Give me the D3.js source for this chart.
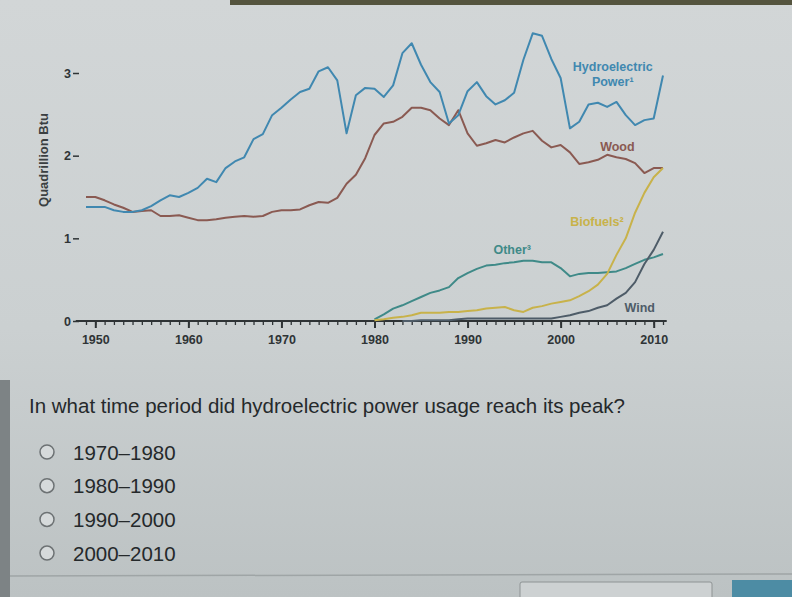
<!DOCTYPE html>
<html>
<head>
<meta charset="utf-8">
<script src="https://cdn.jsdelivr.net/npm/d3@7"></script>
<style>
  html, body { margin: 0; padding: 0; background: #c9cecf; }
  svg { display: block; font-family: "Liberation Sans", Arial, sans-serif; }
</style>
</head>
<body>
<svg id="chart"></svg>
<script>
// ---- data (quadrillion Btu) ----
const years = d3.range(1949, 2012)

const hydro = [1.38, 1.38, 1.38, 1.34, 1.32, 1.32, 1.34, 1.39, 1.46, 1.52,
  1.50, 1.55, 1.61, 1.72, 1.68, 1.85, 1.93, 1.98, 2.20, 2.26,
  2.49, 2.58, 2.68, 2.77, 2.81, 3.02, 3.07, 2.91, 2.27, 2.73,
  2.82, 2.81, 2.71, 2.85, 3.24, 3.36, 3.10, 2.89, 2.77, 2.39,
  2.49, 2.78, 2.89, 2.72, 2.62, 2.67, 2.76, 3.16, 3.48, 3.45,
  3.17, 2.94, 2.33, 2.41, 2.62, 2.64, 2.59, 2.65, 2.49, 2.37,
  2.43, 2.45, 2.97]

const wood = [1.50, 1.50, 1.46, 1.41, 1.37, 1.32, 1.33, 1.34, 1.27, 1.27,
  1.28, 1.25, 1.22, 1.22, 1.23, 1.25, 1.26, 1.27, 1.26, 1.27,
  1.32, 1.34, 1.34, 1.35, 1.40, 1.44, 1.43, 1.49, 1.66, 1.77,
  1.97, 2.25, 2.39, 2.41, 2.47, 2.58, 2.58, 2.55, 2.45, 2.37,
  2.55, 2.27, 2.12, 2.15, 2.19, 2.16, 2.22, 2.27, 2.30, 2.18,
  2.10, 2.13, 2.04, 1.90, 1.92, 1.95, 2.01, 1.98, 1.96, 1.91,
  1.79, 1.85, 1.85]

// these start in 1980
const otherYears = d3.range(1980, 2012)
const other = [0.02, 0.08, 0.15, 0.19, 0.24, 0.29, 0.34, 0.37, 0.41, 0.52,
  0.58, 0.63, 0.67, 0.68, 0.70, 0.71, 0.73, 0.73, 0.71, 0.71,
  0.64, 0.54, 0.57, 0.58, 0.58, 0.59, 0.60, 0.64, 0.69, 0.74,
  0.77, 0.81]

const biofuels = [0.01, 0.02, 0.04, 0.05, 0.07, 0.10, 0.10, 0.10, 0.11, 0.11,
  0.12, 0.13, 0.15, 0.16, 0.17, 0.13, 0.11, 0.16, 0.18, 0.21,
  0.23, 0.25, 0.30, 0.36, 0.44, 0.57, 0.80, 1.00, 1.31, 1.55,
  1.74, 1.85]

// wind starts in 1983
const windYears = d3.range(1983, 2012)
const wind = [0.00, 0.00, 0.01, 0.01, 0.01, 0.01, 0.02, 0.03, 0.03, 0.03,
  0.03, 0.03, 0.03, 0.03, 0.03, 0.03, 0.03, 0.05, 0.07, 0.10,
  0.12, 0.16, 0.19, 0.27, 0.34, 0.47, 0.69, 0.86, 1.08]

const yTicks = [0, 1, 2, 3]
const majorYears = [1950, 1960, 1970, 1980, 1990, 2000, 2010]

const question = 'In what time period did hydroelectric power usage reach its peak?'
const choices = ['1970\u20131980', '1980\u20131990', '1990\u20132000', '2000\u20132010']

const colors = {
  hydro: '#4088b0',
  wood: '#8a5a52',
  biofuels: '#c8b24a',
  other: '#3f8a88',
  wind: '#4e5c68'
}

// ---- set up ----
const width = 792
const height = 597

const svg = d3.select('#chart')
  .attr('width', width)
  .attr('height', height)

// background of the photographed screen
const defs = svg.append('defs')
const bg = defs.append('linearGradient')
  .attr('id', 'bg')
  .attr('x1', 0).attr('y1', 0).attr('x2', 0).attr('y2', 1)
bg.append('stop').attr('offset', '0%').attr('stop-color', '#d2d6d7')
bg.append('stop').attr('offset', '55%').attr('stop-color', '#cbd0d1')
bg.append('stop').attr('offset', '100%').attr('stop-color', '#bcc2c3')

svg.append('rect')
  .attr('width', width)
  .attr('height', height)
  .attr('fill', 'url(#bg)')

svg.append('rect')
  .attr('x', 230).attr('y', 0)
  .attr('width', width - 230).attr('height', 5)
  .attr('fill', '#55553f')

svg.append('rect')
  .attr('x', 0).attr('y', 380)
  .attr('width', 10).attr('height', height - 380)
  .attr('fill', '#7d8385')

// bottom bar and buttons
svg.append('line')
  .attr('x1', 10).attr('x2', width)
  .attr('y1', 576).attr('y2', 574)
  .attr('stroke', '#9fa5a6')
  .attr('stroke-width', 1.5)

svg.append('rect')
  .attr('x', 520).attr('y', 582)
  .attr('width', 192).attr('height', 24)
  .attr('rx', 2)
  .attr('fill', '#cdd1d2')
  .attr('stroke', '#8e9394')

svg.append('rect')
  .attr('x', 732).attr('y', 580)
  .attr('width', 70).attr('height', 24)
  .attr('fill', '#4d8ca4')

// ---- scales ----
const x = d3.scaleLinear()
  .domain([1949, 2011])
  .range([86, 663])

const y = d3.scaleLinear()
  .domain([0, 3])
  .range([321, 73])

const line = d3.line()
  .x(d => x(d[0]))
  .y(d => y(d[1]))

// ---- axes ----
svg.append('line')
  .attr('x1', x(1947.9))
  .attr('x2', x(2011.4))
  .attr('y1', y(0))
  .attr('y2', y(0))
  .attr('stroke', '#2e3335')
  .attr('stroke-width', 2)

const minorAxis = svg.append('g')
  .attr('transform', `translate(0,${y(0)})`)
  .call(d3.axisBottom(x).tickValues(years).tickSize(4).tickFormat(''))

const majorAxis = svg.append('g')
  .attr('transform', `translate(0,${y(0)})`)
  .call(d3.axisBottom(x).tickValues(majorYears).tickSize(7).tickPadding(7).tickFormat(d3.format('d')))

;[minorAxis, majorAxis].forEach(g => {
  g.select('.domain').remove()
  g.selectAll('line').attr('stroke', '#2e3335').attr('stroke-width', 1.3)
})
majorAxis.selectAll('line').attr('stroke-width', 2)
majorAxis.selectAll('text')
  .attr('fill', '#2f3436')
  .attr('font-size', 12.5)
  .attr('font-weight', 'bold')

const yAxis = svg.append('g')
  .attr('transform', 'translate(79,0)')
  .call(d3.axisLeft(y).tickValues(yTicks).tickSize(6).tickPadding(2).tickFormat(d3.format('d')))

yAxis.select('.domain').remove()
yAxis.selectAll('line').attr('stroke', '#2f3436').attr('stroke-width', 1.5)
yAxis.selectAll('text')
  .attr('fill', '#2f3436')
  .attr('font-size', 12.5)
  .attr('font-weight', 'bold')

svg.append('text')
  .attr('transform', 'translate(48,160) rotate(-90)')
  .attr('text-anchor', 'middle')
  .attr('font-size', 13)
  .attr('font-weight', 'bold')
  .attr('fill', '#3a3f41')
  .text('Quadrillion Btu')

// ---- series ----
const series = [
  { key: 'wood', yrs: years, vals: wood },
  { key: 'other', yrs: otherYears, vals: other },
  { key: 'biofuels', yrs: otherYears, vals: biofuels },
  { key: 'wind', yrs: windYears, vals: wind },
  { key: 'hydro', yrs: years, vals: hydro }
]

svg.selectAll('.series')
  .data(series)
  .enter()
  .append('path')
  .attr('class', 'series')
  .attr('d', s => line(s.yrs.map((yr, i) => [yr, s.vals[i]])))
  .attr('fill', 'none')
  .attr('stroke', s => colors[s.key])
  .attr('stroke-width', 2)
  .attr('stroke-linejoin', 'round')

// series labels, placed next to their lines
const labels = [
  { key: 'hydro', lines: ['Hydroelectric', 'Power\u00b9'], yr: 2005.6, v: 3.02 },
  { key: 'wood', lines: ['Wood'], yr: 2006.1, v: 2.06 },
  { key: 'biofuels', lines: ['Biofuels\u00b2'], yr: 2003.9, v: 1.15 },
  { key: 'other', lines: ['Other\u00b3'], yr: 1994.8, v: 0.81 },
  { key: 'wind', lines: ['Wind'], yr: 2008.5, v: 0.11 }
]

const lab = svg.selectAll('.lab')
  .data(labels)
  .enter()
  .append('text')
  .attr('class', 'lab')
  .attr('text-anchor', 'middle')
  .attr('font-size', 12.5)
  .attr('font-weight', 'bold')
  .attr('fill', d => colors[d.key])
  .attr('x', d => x(d.yr))
  .attr('y', d => y(d.v))

lab.selectAll('tspan')
  .data(d => d.lines.map((t, i) => ({ t, i, d })))
  .enter()
  .append('tspan')
  .attr('x', o => x(o.d.yr))
  .attr('dy', o => o.i === 0 ? 0 : 15)
  .text(o => o.t)

// ---- question ----
svg.append('text')
  .attr('x', 29)
  .attr('y', 413)
  .attr('font-size', 20.5)
  .attr('fill', '#25292b')
  .text(question)

const opt = svg.selectAll('.opt')
  .data(choices)
  .enter()
  .append('g')
  .attr('class', 'opt')
  .attr('transform', (d, i) => `translate(0,${452 + i * 33.7})`)

opt.append('circle')
  .attr('cx', 47)
  .attr('cy', 0)
  .attr('r', 7)
  .attr('fill', '#d6dadb')
  .attr('stroke', '#6d7274')
  .attr('stroke-width', 1.5)

opt.append('text')
  .attr('x', 73)
  .attr('y', 7.5)
  .attr('font-size', 20.5)
  .attr('fill', '#25292b')
  .text(d => d)
</script>
</body>
</html>
